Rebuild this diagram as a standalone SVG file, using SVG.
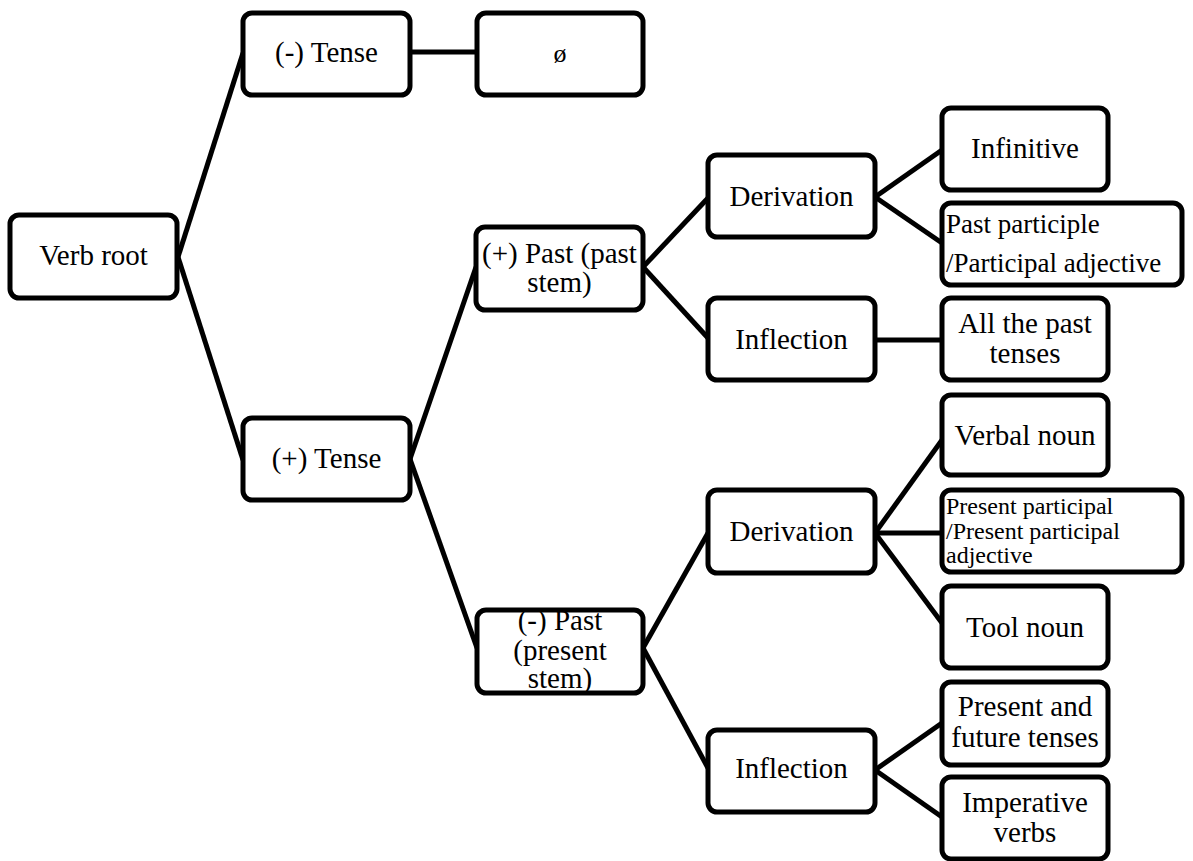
<svg xmlns="http://www.w3.org/2000/svg" width="1193" height="861" viewBox="0 0 1193 861">
<style>
.box{fill:#fff;stroke:#000;stroke-width:5}
.t{font-size:29px;fill:#000;text-anchor:middle}
.s{fill:#000;text-anchor:start}
.c{stroke:#000;stroke-width:5;fill:none}
</style>
<rect width="1193" height="861" fill="#fff"/>
<g id="connectors">
<line class="c" x1="178" y1="257" x2="243" y2="53"/>
<line class="c" x1="178" y1="257" x2="243" y2="460"/>
<line class="c" x1="410" y1="52" x2="477" y2="52"/>
<line class="c" x1="410" y1="459" x2="476" y2="267"/>
<line class="c" x1="410" y1="459" x2="477" y2="648"/>
<line class="c" x1="643" y1="267" x2="708" y2="198"/>
<line class="c" x1="643" y1="267" x2="708" y2="338"/>
<line class="c" x1="643" y1="648" x2="708" y2="533"/>
<line class="c" x1="643" y1="648" x2="708" y2="768"/>
<line class="c" x1="875" y1="197" x2="942" y2="150"/>
<line class="c" x1="875" y1="197" x2="942" y2="243"/>
<line class="c" x1="875" y1="340" x2="942" y2="340"/>
<line class="c" x1="875" y1="533" x2="942" y2="440"/>
<line class="c" x1="875" y1="533" x2="942" y2="533"/>
<line class="c" x1="875" y1="533" x2="942" y2="623"/>
<line class="c" x1="875" y1="770" x2="942" y2="723"/>
<line class="c" x1="875" y1="770" x2="942" y2="817"/>
</g>
<g font-family="'Liberation Serif', 'Times New Roman', serif">
<g id="verb-root"><rect class="box" x="10" y="215" width="167" height="83" rx="9"/><text class="t" x="93.5" y="265">Verb root</text></g>
<g id="minus-tense"><rect class="box" x="243" y="13" width="167" height="82" rx="9"/><text class="t" x="326.5" y="62">(-) Tense</text></g>
<g id="null"><rect class="box" x="477" y="13" width="166" height="82" rx="9"/><text class="t" x="560" y="62" style="font-size:26px">ø</text></g>
<g id="plus-tense"><rect class="box" x="243" y="418" width="167" height="82" rx="9"/><text class="t" x="326.5" y="468">(+) Tense</text></g>
<g id="plus-past"><rect class="box" x="476" y="227" width="167" height="83" rx="9"/><text class="t" x="559.5" y="263">(+) Past (past</text><text class="t" x="559.5" y="292">stem)</text></g>
<g id="minus-past"><rect class="box" x="477" y="610" width="166" height="83" rx="9"/><text class="t" x="560" y="630">(-) Past</text><text class="t" x="560" y="660">(present</text><text class="t" x="560" y="688">stem)</text></g>
<g id="derivation-1"><rect class="box" x="708" y="155" width="167" height="82" rx="9"/><text class="t" x="791.5" y="206">Derivation</text></g>
<g id="inflection-1"><rect class="box" x="708" y="298" width="167" height="82" rx="9"/><text class="t" x="791.5" y="349">Inflection</text></g>
<g id="derivation-2"><rect class="box" x="708" y="490" width="167" height="83" rx="9"/><text class="t" x="791.5" y="541">Derivation</text></g>
<g id="inflection-2"><rect class="box" x="708" y="730" width="167" height="82" rx="9"/><text class="t" x="791.5" y="778">Inflection</text></g>
<g id="infinitive"><rect class="box" x="942" y="108" width="166" height="82" rx="9"/><text class="t" x="1025" y="158">Infinitive</text></g>
<g id="past-participle"><rect class="box" x="942" y="203" width="240" height="82" rx="9"/><text class="s" x="946" y="233" font-size="27">Past participle</text><text class="s" x="946" y="272" font-size="27">/Participal adjective</text></g>
<g id="all-past"><rect class="box" x="942" y="298" width="166" height="82" rx="9"/><text class="t" x="1025" y="333">All the past</text><text class="t" x="1025" y="363">tenses</text></g>
<g id="verbal-noun"><rect class="box" x="942" y="395" width="166" height="80" rx="9"/><text class="t" x="1025" y="445">Verbal noun</text></g>
<g id="present-participle"><rect class="box" x="942" y="490" width="240" height="82" rx="9"/><text class="s" x="946" y="514" font-size="24">Present participal</text><text class="s" x="946" y="539" font-size="24">/Present participal</text><text class="s" x="946" y="563" font-size="24">adjective</text></g>
<g id="tool-noun"><rect class="box" x="942" y="586" width="166" height="82" rx="9"/><text class="t" x="1025" y="637">Tool noun</text></g>
<g id="present-future"><rect class="box" x="942" y="682" width="166" height="83" rx="9"/><text class="t" x="1025" y="716">Present and</text><text class="t" x="1025" y="747">future tenses</text></g>
<g id="imperative"><rect class="box" x="942" y="777" width="166" height="82" rx="9"/><text class="t" x="1025" y="812">Imperative</text><text class="t" x="1025" y="842">verbs</text></g>
</g>
</svg>
